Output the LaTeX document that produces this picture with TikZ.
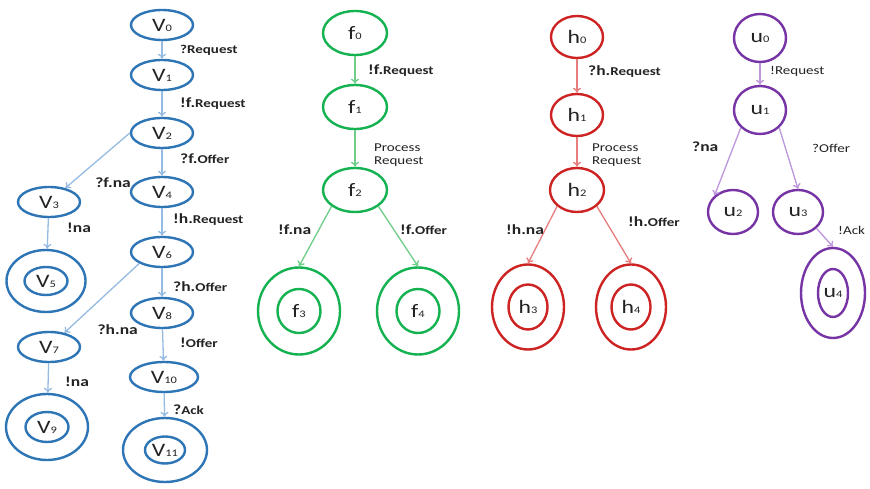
\documentclass[tikz,border=0pt]{standalone}
\usepackage{fontspec}
\setmainfont{Carlito}[FakeStretch=1.25]
\usetikzlibrary{positioning,arrows.meta,shapes.geometric}
\definecolor{stBlue}{RGB}{46,117,182}
\definecolor{stBlueEdge}{RGB}{150,187,226}
\definecolor{stGreen}{RGB}{20,178,80}
\definecolor{stGreenEdge}{RGB}{110,205,135}
\definecolor{stRed}{RGB}{205,35,35}
\definecolor{stRedEdge}{RGB}{232,125,125}
\definecolor{stPurple}{RGB}{118,52,165}
\definecolor{stPurpleEdge}{RGB}{190,150,220}
\definecolor{stText}{RGB}{35,35,35}

% state name with a small index on the baseline
\newcommand{\stateid}[2]{#1\raisebox{0pt}{\fontsize{10}{10}\selectfont #2}}
% smaller word inside an action label
\newcommand{\smallword}[1]{{\fontsize{12}{12}\selectfont #1}}

\begin{document}
\begin{tikzpicture}[x=1pt,y=-1pt,font=\fontsize{19}{19}\selectfont,
    state/.style={ellipse,draw,line width=2.4pt,inner sep=0pt,text=stText},
    trans/.style={line width=1.3pt,-{To[length=5pt,width=8pt]}},
    act/.style={font=\bfseries\fontsize{14}{14}\selectfont,text=stText,inner sep=0pt},
    actplain/.style={font=\fontsize{12}{13}\selectfont,text=stText,inner sep=0pt,align=left}]
  \fill[white] (0,0) rectangle (870,489);
  \useasboundingbox (0,0) rectangle (870,489);

  % blue automaton V
  \begin{scope}[every node/.append style={draw=stBlue}]
    \node[state,minimum width=62pt,minimum height=30pt] (v0) at (162,25) {\stateid{V}{0}};
    \node[state,minimum width=62pt,minimum height=30pt] (v1) at (162,75) {\stateid{V}{1}};
    \node[state,minimum width=62pt,minimum height=30pt] (v2) at (162,133) {\stateid{V}{2}};
    \node[state,minimum width=62pt,minimum height=30pt] (v3) at (49,202) {\stateid{V}{3}};
    \node[state,minimum width=62pt,minimum height=30pt] (v4) at (162,192) {\stateid{V}{4}};
    \node[state,minimum width=79pt,minimum height=62pt] (v5) at (46,281) {};
    \node[state,minimum width=43pt,minimum height=28pt] (v5i) at (v5.center) {\stateid{V}{5}};
    \node[state,minimum width=62pt,minimum height=30pt] (v6) at (162,252) {\stateid{V}{6}};
    \node[state,minimum width=62pt,minimum height=30pt] (v7) at (49,347) {\stateid{V}{7}};
    \node[state,minimum width=62pt,minimum height=30pt] (v8) at (162,313) {\stateid{V}{8}};
    \node[state,minimum width=82pt,minimum height=66pt] (v9) at (47,427) {};
    \node[state,minimum width=43pt,minimum height=30pt] (v9i) at (v9.center) {\stateid{V}{9}};
    \node[state,minimum width=68pt,minimum height=30pt] (v10) at (164,377) {\stateid{V}{10}};
    \node[state,minimum width=84pt,minimum height=64pt] (v11) at (165,450) {};
    \node[state,minimum width=40pt,minimum height=27pt] (v11i) at (v11.center) {\stateid{V}{11}};
  \end{scope}
  \begin{scope}[stBlueEdge]
    \draw[trans] (v0) -- (v1);
    \draw[trans] (v1) -- (v2);
    \draw[trans] (v2) -- (v4);
    \draw[trans] (v2.west) -- (v3);
    \draw[trans] (v3) -- (v5);
    \draw[trans] (v4) -- (v6);
    \draw[trans] (v6) -- (v8);
    \draw[trans] (v6.south west) -- (v7);
    \draw[trans] (v7) -- (v9);
    \draw[trans] (v8) -- (v10);
    \draw[trans] (v10) -- (v11);
  \end{scope}
  \node[act,anchor=west] (a01) at (180,50) {\smallword{?Request}};
  \node[act,anchor=west] (a12) at (180,104) {!f.\smallword{Request}};
  \node[act,anchor=west] (a24) at (180,159) {?f.\smallword{Offer}};
  \node[act,anchor=east] (a23) at (131,183) {?f.na};
  \node[act,anchor=west] (a35) at (67,228) {!na};
  \node[act,anchor=west] (a46) at (173,220) {!h.\smallword{Request}};
  \node[act,anchor=west] (a68) at (173,287) {?h.\smallword{Offer}};
  \node[act,anchor=east] (a67) at (138,330) {?h.na};
  \node[act,anchor=west] (a810) at (180,343) {!\smallword{Offer}};
  \node[act,anchor=west] (a79) at (65,382) {!na};
  \node[act,anchor=west] (a1011) at (173,410) {?\smallword{Ack}};

  % green automaton f
  \begin{scope}[every node/.append style={draw=stGreen}]
    \node[state,minimum width=64pt,minimum height=44pt] (f0) at (355,33) {\stateid{f}{0}};
    \node[state,minimum width=64pt,minimum height=44pt] (f1) at (355,107) {\stateid{f}{1}};
    \node[state,minimum width=64pt,minimum height=44pt] (f2) at (355,190) {\stateid{f}{2}};
    \node[state,minimum width=82pt,minimum height=87pt] (f3) at (299,311) {};
    \node[state,minimum width=43pt,minimum height=44pt] (f3i) at (f3.center) {\stateid{f}{3}};
    \node[state,minimum width=82pt,minimum height=87pt] (f4) at (418,311) {};
    \node[state,minimum width=43pt,minimum height=44pt] (f4i) at (f4.center) {\stateid{f}{4}};
  \end{scope}
  \begin{scope}[stGreenEdge]
    \draw[trans] (f0) -- (f1);
    \draw[trans] (f1) -- (f2);
    \draw[trans] (f2.south west) -- (f3.north);
    \draw[trans] (f2.south east) -- (f4.north);
  \end{scope}
  \node[act,anchor=west] (b01) at (368,71) {!f.\smallword{Request}};
  \node[actplain,anchor=west] (b12) at (374,155) {Process\\Request};
  \node[act,anchor=west] (b23) at (278,230) {!f.na};
  \node[act,anchor=west] (b24) at (400,230) {!f.\smallword{Offer}};

  % red automaton h
  \begin{scope}[every node/.append style={draw=stRed}]
    \node[state,minimum width=52pt,minimum height=42pt] (h0) at (577,37) {\stateid{h}{0}};
    \node[state,minimum width=52pt,minimum height=42pt] (h1) at (577,115) {\stateid{h}{1}};
    \node[state,minimum width=54pt,minimum height=44pt] (h2) at (577,190) {\stateid{h}{2}};
    \node[state,minimum width=72pt,minimum height=85pt] (h3) at (528,307) {};
    \node[state,minimum width=39pt,minimum height=45pt] (h3i) at (h3.center) {\stateid{h}{3}};
    \node[state,minimum width=70pt,minimum height=85pt] (h4) at (631,307) {};
    \node[state,minimum width=39pt,minimum height=45pt] (h4i) at (h4.center) {\stateid{h}{4}};
  \end{scope}
  \begin{scope}[stRedEdge]
    \draw[trans] (h0) -- (h1);
    \draw[trans] (h1) -- (h2);
    \draw[trans] (h2.south west) -- (h3.north);
    \draw[trans] (h2.south east) -- (h4.north);
  \end{scope}
  \node[act,anchor=west] (c01) at (588,72) {?h.\smallword{Request}};
  \node[actplain,anchor=west] (c12) at (592,155) {Process\\Request};
  \node[act,anchor=west] (c23) at (506,230) {!h.na};
  \node[act,anchor=west] (c24) at (628,222) {!h.\smallword{Offer}};

  % purple automaton u
  \begin{scope}[every node/.append style={draw=stPurple}]
    \node[state,minimum width=52pt,minimum height=48pt] (u0) at (760,38) {\stateid{u}{0}};
    \node[state,minimum width=52pt,minimum height=48pt] (u1) at (760,110) {\stateid{u}{1}};
    \node[state,minimum width=50pt,minimum height=44pt] (u2) at (733,212) {\stateid{u}{2}};
    \node[state,minimum width=50pt,minimum height=44pt] (u3) at (798,212) {\stateid{u}{3}};
    \node[state,minimum width=64pt,minimum height=90pt] (u4) at (833,293) {};
    \node[state,minimum width=30pt,minimum height=48pt] (u4i) at (u4.center) {\stateid{u}{4}};
  \end{scope}
  \begin{scope}[stPurpleEdge]
    \draw[trans] (u0) -- (u1);
    \draw[trans] (u1.south west) -- (u2.north west);
    \draw[trans] (u1.south east) -- (u3.north);
    \draw[trans] (u3.south east) -- (u4.north);
  \end{scope}
  \node[actplain,anchor=west] (d01) at (770,71) {\smallword{!Request}};
  \node[act,anchor=west] (d12) at (692,147) {?na};
  \node[actplain,anchor=west] (d13) at (812,148) {\smallword{?Offer}};
  \node[actplain,anchor=west] (d34) at (838,230) {\smallword{!Ack}};
\end{tikzpicture}
\end{document}
